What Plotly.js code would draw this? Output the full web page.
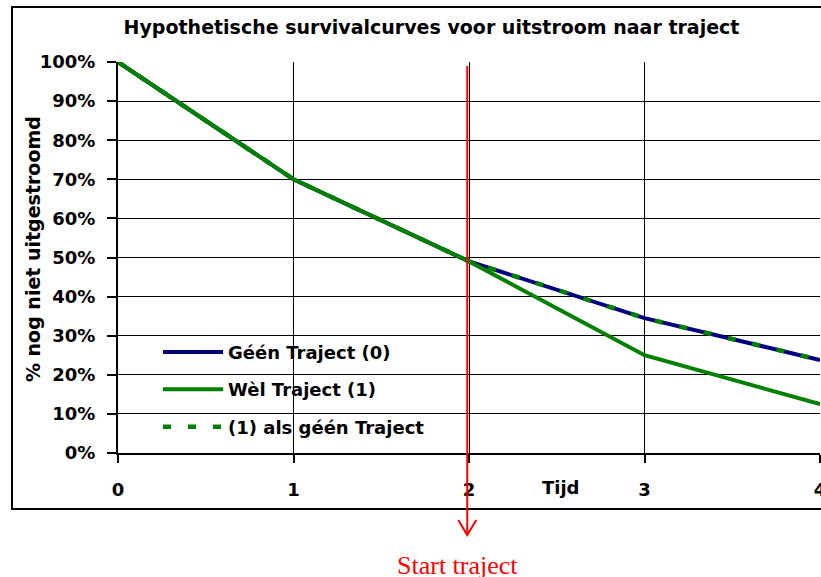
<!DOCTYPE html>
<html>
<head>
<meta charset="utf-8">
<script src="https://cdn.plot.ly/plotly-3.0.1.min.js"></script>
<style>html,body{margin:0;padding:0;background:#fff;}#chart{width:821px;height:577px;}</style>
</head>
<body>
<div id="chart"></div>
<script>
var tijd = [0, 1, 2, 3, 4];
var geenTraject = [1.00, 0.70, 0.49, 0.345, 0.238];
var welTraject = [1.00, 0.70, 0.49, 0.25, 0.125];
var alsGeenTraject = [1.00, 0.70, 0.49, 0.345, 0.238];
var yTicks = [0, 0.1, 0.2, 0.3, 0.4, 0.5, 0.6, 0.7, 0.8, 0.9, 1.0];
var xTicks = [0, 1, 2, 3, 4];
var startTraject = 1.99;

var F = 'DejaVu Sans';
var traces = [
  {x: tijd, y: geenTraject, name: 'Géén Traject (0)', mode: 'lines', legendgroup: 'a',
   line: {color: '#000080', width: 4}},
  {x: tijd, y: welTraject, name: 'Wèl Traject (1)', mode: 'lines', legendgroup: 'b',
   line: {color: '#008000', width: 4}},
  {x: tijd, y: alsGeenTraject, name: '(1) als géén Traject', mode: 'lines', legendgroup: 'c',
   line: {color: '#008000', width: 4.5, dash: '8px,17px'}}
];

var layout = {
  width: 821, height: 577,
  margin: {l: 118, r: 1, t: 62, b: 124},
  paper_bgcolor: '#fff', plot_bgcolor: '#fff',
  showlegend: true,
  title: {text: 'Hypothetische survivalcurves voor uitstroom naar traject',
          font: {family: F, size: 19, weight: 'bold', color: '#000'},
          x: 0.5256, xanchor: 'center', y: 0.953, yanchor: 'middle'},
  xaxis: {range: [0, 4], tickvals: xTicks, ticktext: xTicks.map(String),
          showgrid: true, gridcolor: '#000', gridwidth: 1, zeroline: false,
          showline: true, linecolor: '#000', linewidth: 2,
          ticks: 'outside', ticklen: 8, tickwidth: 2, tickcolor: '#000',
          ticklabelstandoff: 11, ticklabeloverflow: 'allow',
          tickfont: {family: F, size: 18, weight: 'bold', color: '#000'}},
  yaxis: {range: [0, 1], tickvals: yTicks, tickformat: '.0%',
          showgrid: true, gridcolor: '#000', gridwidth: 1, zeroline: false,
          showline: true, linecolor: '#000', linewidth: 2,
          ticks: 'outside', ticklen: 9, tickwidth: 2, tickcolor: '#000',
          ticklabelstandoff: 8,
          tickfont: {family: F, size: 18, weight: 'bold', color: '#000'}},
  legend: {x: 0.057, xanchor: 'left', y: 0.305, yanchor: 'top',
           bgcolor: 'rgba(0,0,0,0)', borderwidth: 0, itemwidth: 60,
           tracegroupgap: 11,
           font: {family: F, size: 18, weight: 'bold', color: '#000'}},
  shapes: [
    {type: 'rect', xref: 'paper', yref: 'paper', x0: 0.002, x1: 0.494, y0: 0.02, y1: 0.315,
     fillcolor: '#fff', line: {width: 0}, layer: 'between'},
    {type: 'rect', xref: 'paper', yref: 'paper', x0: -0.151, x1: 1.003, y0: -0.1432, y1: 1.1407,
     fillcolor: 'rgba(0,0,0,0)', line: {color: '#000', width: 2}, layer: 'above'},
    {type: 'line', xref: 'x', yref: 'paper', x0: startTraject, x1: startTraject, y0: 0.9898, y1: -0.2097,
     line: {color: '#ff0000', width: 2}, layer: 'above'},
    {type: 'path', xref: 'x', yref: 'paper',
     path: 'M ' + (startTraject - 0.0513) + ',-0.1714 L ' + startTraject + ',-0.2097 L ' + (startTraject + 0.0513) + ',-0.1714',
     line: {color: '#ff0000', width: 2}, layer: 'above'}
  ],
  annotations: [
    {text: 'Tijd', xref: 'x', yref: 'paper', x: 2.524, y: -0.0895, xanchor: 'center', yanchor: 'middle',
     showarrow: false, font: {family: F, size: 18, weight: 'bold', color: '#000'}},
    {text: '% nog niet uitgestroomd', xref: 'paper', yref: 'paper', x: -0.121, y: 0.5217,
     xanchor: 'center', yanchor: 'middle', textangle: -90, showarrow: false,
     font: {family: F, size: 19, weight: 'bold', color: '#000'}},
    {text: 'Start traject', xref: 'x', yref: 'paper', x: 1.937, y: -0.2865,
     xanchor: 'center', yanchor: 'middle', showarrow: false,
     font: {family: 'Liberation Serif', size: 26, color: '#ff0000'}}
  ]
};

Plotly.newPlot('chart', traces, layout, {displayModeBar: false, staticPlot: true});
</script>
</body>
</html>
